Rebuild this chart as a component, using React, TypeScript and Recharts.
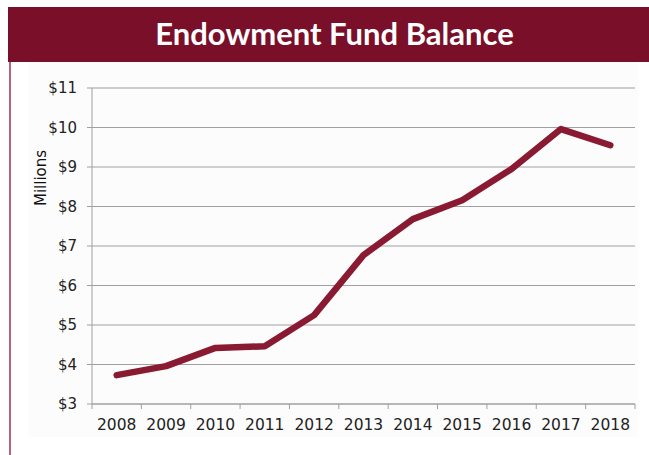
import React from 'react';
import { LineChart, Line, XAxis, YAxis, CartesianGrid } from 'recharts';

const years = ['2008', '2009', '2010', '2011', '2012', '2013', '2014', '2015', '2016', '2017', '2018'];
const balances = [3.73, 3.96, 4.42, 4.46, 5.25, 6.77, 7.68, 8.16, 8.95, 9.96, 9.55];
const yTicks = [3, 4, 5, 6, 7, 8, 9, 10, 11];

const data = years.map((year, i) => ({ year, balance: balances[i] }));

const MAROON = '#7a0f2a';
const LINE = '#891a31';
const GRID = '#a0a0a0';
const FONT = 'DejaVu Sans';

const YearTick = (props: any) => {
  const { x, y, payload, index, visibleTicksCount } = props;
  const half = payload.offset ?? 0;
  const axisY = y - 15;
  return (
    <g>
      <line x1={x - half} x2={x - half} y1={axisY} y2={axisY + 5} stroke={GRID} />
      {index === visibleTicksCount - 1 && (
        <line x1={x + half} x2={x + half} y1={axisY} y2={axisY + 5} stroke={GRID} />
      )}
      <text x={x} y={y} dy="0.71em" textAnchor="middle" fill="#222" fontSize={15.5} fontFamily={FONT}>
        {payload.value}
      </text>
    </g>
  );
};

export default function App() {
  return (
    <div style={{ position: 'absolute', left: 0, top: 0, width: 649, height: 455, background: '#fff' }}>
      <div style={{ position: 'absolute', left: 28, top: 62, width: 610, height: 375, background: '#fcfcfc' }} />
      <div
        style={{
          position: 'absolute',
          left: 8,
          top: 7,
          width: 641,
          height: 55,
          background: MAROON,
          color: '#fff',
          fontFamily: 'Lato, "Open Sans", sans-serif',
          fontWeight: 700,
          fontSize: 31,
          lineHeight: '53px',
          textAlign: 'center',
          paddingLeft: 12,
          boxSizing: 'border-box',
        }}
      >
        Endowment Fund Balance
      </div>
      <div style={{ position: 'absolute', left: 9, top: 62, width: 2, height: 393, background: '#b5627e' }} />
      <div style={{ position: 'absolute', left: 0, top: 0 }}>
        <LineChart width={649} height={455} data={data} margin={{ top: 88, right: 14, bottom: 0, left: 0 }}>
          <CartesianGrid vertical={false} stroke={GRID} />
          <XAxis
            dataKey="year"
            scale="band"
            axisLine={{ stroke: GRID }}
            tickLine={false}
            tickMargin={9}
            tick={<YearTick />}
            interval={0}
            height={51}
          />
          <YAxis
            domain={[3, 11]}
            ticks={yTicks}
            interval={0}
            width={92}
            tickFormatter={(v: number) => `$${v}`}
            axisLine={{ stroke: GRID }}
            tickLine={{ stroke: GRID }}
            tickSize={5}
            tickMargin={10}
            tick={{ fill: '#222', fontSize: 15, fontFamily: FONT }}
            label={{
              value: 'Millions',
              angle: -90,
              position: 'insideLeft',
              dx: 36,
              dy: -68,
              style: { textAnchor: 'middle', fill: '#111', fontSize: 15, fontFamily: FONT },
            }}
          />
          <Line
            type="linear"
            dataKey="balance"
            stroke={LINE}
            strokeWidth={6.5}
            strokeLinecap="round"
            strokeLinejoin="round"
            dot={false}
            isAnimationActive={false}
          />
        </LineChart>
      </div>
    </div>
  );
}
